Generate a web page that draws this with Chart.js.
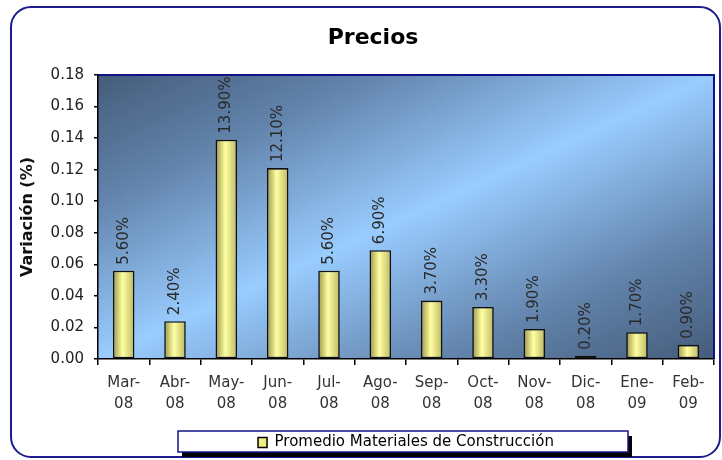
<!DOCTYPE html>
<html>
<head>
<meta charset="utf-8">
<script src="https://cdn.jsdelivr.net/npm/chart.js@4.4.1/dist/chart.umd.min.js"></script>
<style>
  html, body { margin: 0; padding: 0; background: #ffffff; }
  #wrap { width: 722px; height: 460px; }
</style>
</head>
<body>
<div id="wrap"><canvas id="c" width="722" height="460"></canvas></div>
<script>
// Monthly price variation, construction materials
const chartTitle = "Precios";
const yTitle = "Variación (%)";
const seriesName = "Promedio Materiales de Construcción";
const months = [
  ["Mar-", "08"], ["Abr-", "08"], ["May-", "08"], ["Jun-", "08"],
  ["Jul-", "08"], ["Ago-", "08"], ["Sep-", "08"], ["Oct-", "08"],
  ["Nov-", "08"], ["Dic-", "08"], ["Ene-", "09"], ["Feb-", "09"]
];
const variacion = [0.056, 0.024, 0.139, 0.121, 0.056, 0.069, 0.037, 0.033, 0.019, 0.002, 0.017, 0.009];
const yMin = 0;
const yMax = 0.18;
const yStep = 0.02;

const FONT = '"DejaVu Sans", Verdana, sans-serif';
const BAR_FRACTION = 0.42;

// Horizontal shading across each bar (darker edges, pale centre)
function barFill(ctx) {
  const chart = ctx.chart;
  const xs = chart.scales && chart.scales.x;
  if (ctx.type !== 'data' || !xs || !isFinite(xs.width) || xs.width <= 0) return '#f4f08c';
  const cx = xs.getPixelForValue(ctx.dataIndex);
  const half = xs.width / months.length * BAR_FRACTION / 2;
  const g = chart.ctx.createLinearGradient(cx - half, 0, cx + half, 0);
  g.addColorStop(0, '#9a9446');
  g.addColorStop(0.45, '#ffffa2');
  g.addColorStop(1, '#bdb862');
  return g;
}

// Frame, plot background and legend box
const backdrop = {
  id: 'backdrop',
  afterLayout(chart) {
    // centre the heading between the frame's left inset and the plot's right edge
    const t = chart.titleBlock;
    if (t) { t.left = 32; t.right = chart.chartArea.right; }
  },
  beforeDraw(chart) {
    const c = chart.ctx;
    const a = chart.chartArea;
    c.save();
    c.fillStyle = '#ffffff';
    c.fillRect(0, 0, chart.width, chart.height);

    // outer rounded frame
    c.beginPath();
    c.roundRect(11, 7, 709, 450, 20);
    c.lineWidth = 2;
    c.strokeStyle = '#1c1c8c';
    c.stroke();

    // diagonal two-tone plot fill
    const w = a.right - a.left, h = a.bottom - a.top;
    const d = w * w + h * h;
    const ex = a.left + 2 * w * h * h / d;
    const ey = a.top + 2 * w * w * h / d;
    const g = c.createLinearGradient(a.left, a.top, ex, ey);
    g.addColorStop(0, '#445c7a');
    g.addColorStop(0.22, '#6283ab');
    g.addColorStop(0.5, '#99ccff');
    g.addColorStop(0.78, '#6283ab');
    g.addColorStop(1, '#445c7a');
    c.fillStyle = g;
    c.fillRect(a.left, a.top, w, h);

    // top and right plot edges
    c.beginPath();
    c.moveTo(a.left, a.top);
    c.lineTo(a.right, a.top);
    c.lineTo(a.right, a.bottom);
    c.lineWidth = 2;
    c.strokeStyle = '#12128a';
    c.stroke();

    // legend frame with drop shadow
    const lg = chart.legend;
    if (lg && lg.legendHitBoxes && lg.legendHitBoxes.length) {
      const hb = lg.legendHitBoxes[0];
      const midX = hb.left + hb.width / 2 - 3;
      const midY = hb.top + hb.height / 2;
      const bw = 450, bh = 21;
      const bx = midX - bw / 2, by = midY - bh / 2 - 1;
      c.fillStyle = '#000000';
      c.fillRect(bx + 4, by + 5, bw, bh);
      c.fillStyle = '#ffffff';
      c.fillRect(bx, by, bw, bh);
      c.lineWidth = 1.5;
      c.strokeStyle = '#14148a';
      c.strokeRect(bx, by, bw, bh);
    }
    c.restore();
  }
};

// Rotated value labels above each bar
const valueLabels = {
  id: 'valueLabels',
  afterDatasetsDraw(chart) {
    const c = chart.ctx;
    const ds = chart.data.datasets[0];
    const meta = chart.getDatasetMeta(0);
    c.save();
    c.font = '15px ' + FONT;
    c.fillStyle = '#2a2a2a';
    c.textAlign = 'left';
    c.textBaseline = 'middle';
    meta.data.forEach((bar, i) => {
      const txt = (ds.data[i] * 100).toFixed(2) + '%';
      c.save();
      c.translate(bar.x, bar.y - 6);
      c.rotate(-Math.PI / 2);
      c.fillText(txt, 0, 0);
      c.restore();
    });
    c.restore();
  }
};

new Chart(document.getElementById('c'), {
  type: 'bar',
  data: {
    labels: months,
    datasets: [{
      label: seriesName,
      data: variacion,
      backgroundColor: barFill,
      borderColor: '#111111',
      borderWidth: 1.6,
      borderSkipped: false,
      categoryPercentage: 1,
      barPercentage: BAR_FRACTION
    }]
  },
  options: {
    responsive: false,
    animation: false,
    devicePixelRatio: 1,
    layout: { padding: { left: 0, right: 8, top: 0, bottom: 0 } },
    plugins: {
      title: {
        display: true,
        text: chartTitle,
        color: '#000000',
        font: { family: FONT, size: 22, weight: 'bold' },
        padding: { top: 25, bottom: 23.6 }
      },
      legend: {
        display: true,
        position: 'bottom',
        fullSize: false,
        onClick: null,
        labels: {
          font: { family: FONT, size: 15 },
          color: '#111111',
          boxWidth: 9,
          boxHeight: 10,
          padding: 10,
          generateLabels: (chart) => [{
            text: chart.data.datasets[0].label,
            fillStyle: '#f2ee86',
            strokeStyle: '#000000',
            lineWidth: 1.5,
            hidden: false,
            datasetIndex: 0
          }]
        }
      },
      tooltip: { enabled: false }
    },
    scales: {
      x: {
        offset: true,
        grid: {
          display: true,
          offset: true,
          drawOnChartArea: false,
          drawTicks: true,
          tickLength: 6,
          color: '#000000',
          lineWidth: 1.5
        },
        border: { display: true, color: '#000000', width: 1.5 },
        ticks: {
          color: '#333333',
          font: { family: FONT, size: 15, lineHeight: 1.4 },
          padding: 8,
          maxRotation: 0,
          autoSkip: false
        },
        afterFit: (s) => { s.height = 66; }
      },
      y: {
        min: yMin,
        max: yMax,
        grid: {
          display: true,
          drawOnChartArea: false,
          drawTicks: true,
          tickLength: 4,
          color: '#000000',
          lineWidth: 1.5
        },
        border: { display: true, color: '#000000', width: 1.5 },
        ticks: {
          stepSize: yStep,
          color: '#222222',
          font: { family: FONT, size: 15 },
          padding: 10,
          callback: (v) => Number(v).toFixed(2)
        },
        title: {
          display: true,
          text: yTitle,
          color: '#111111',
          font: { family: FONT, size: 16, weight: 'bold' },
          padding: 18
        },
        afterFit: (s) => { s.width = 98; }
      }
    }
  },
  plugins: [backdrop, valueLabels]
});
</script>
</body>
</html>
